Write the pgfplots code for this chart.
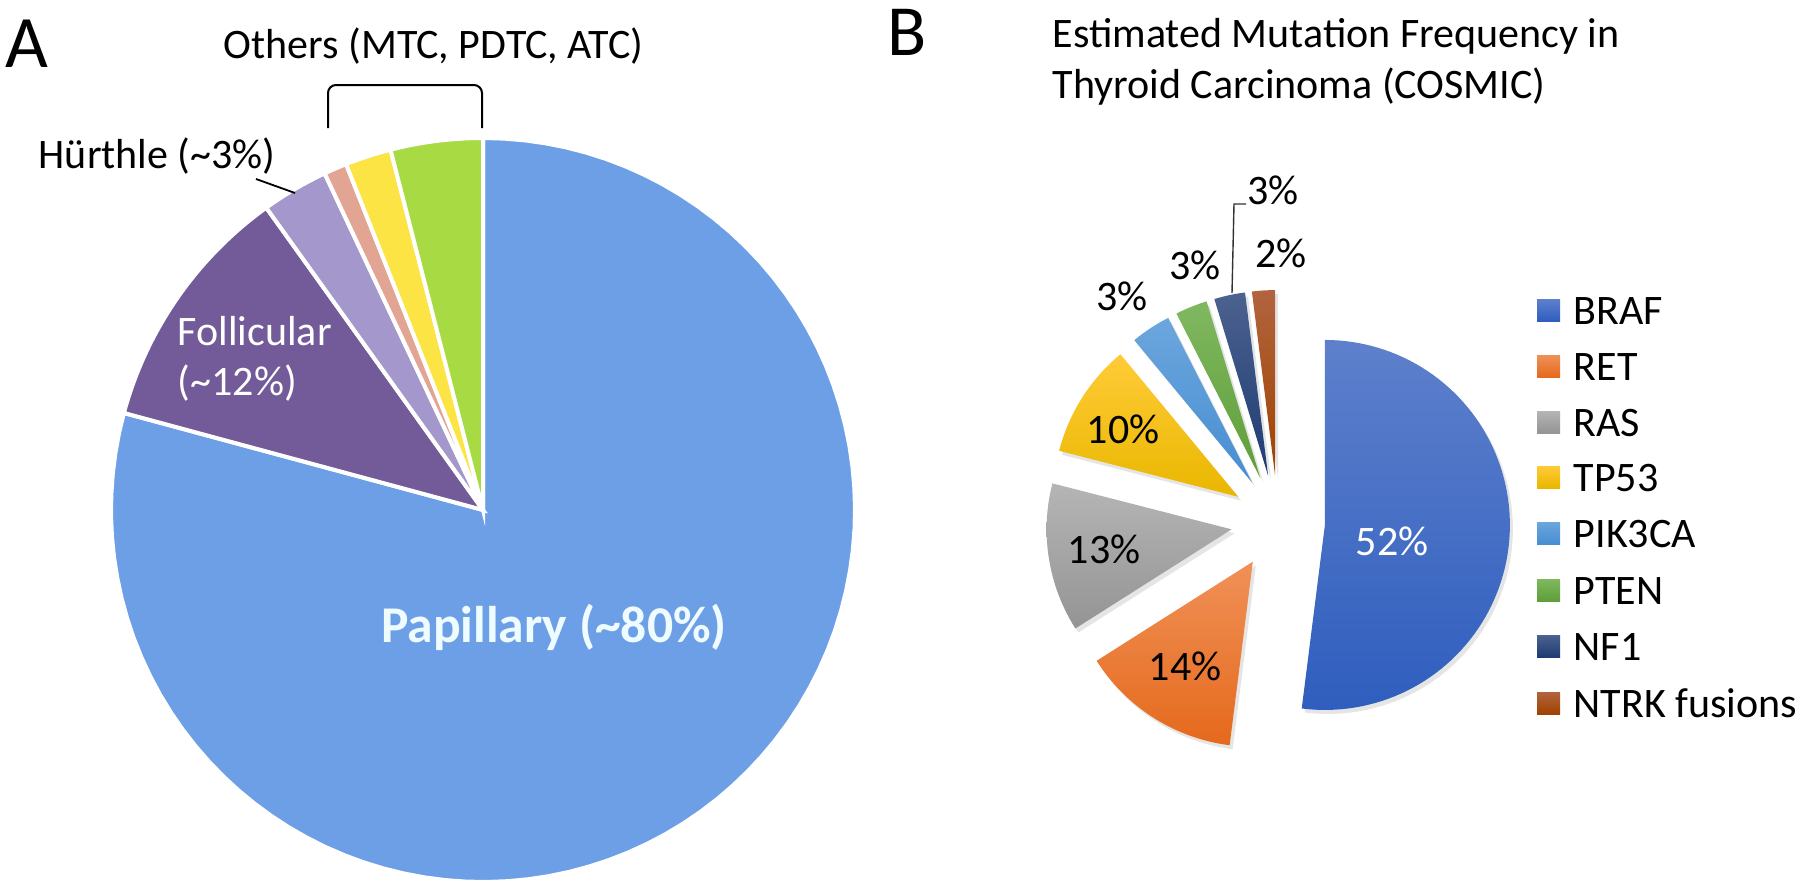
\documentclass[border=0pt]{standalone}
\usepackage{fontspec}
\setmainfont{Carlito}
\usepackage{pgfplots}
\pgfplotsset{compat=1.18}
% Panel A colours
\definecolor{papA}{HTML}{6D9FE7}
\definecolor{folA}{HTML}{725B98}
\definecolor{hurA}{HTML}{A497CB}
\definecolor{pinkA}{HTML}{E2A594}
\definecolor{yelA}{HTML}{FCE444}
\definecolor{grnA}{HTML}{A8DA44}
\definecolor{papText}{HTML}{EEFBFF}
% Panel B colours (top / bottom of gradient)
\definecolor{brafT}{HTML}{5E80CC}\definecolor{brafB}{HTML}{2F5EBE}
\definecolor{retT}{HTML}{F09158}\definecolor{retB}{HTML}{E5691C}
\definecolor{rasT}{HTML}{B5B5B5}\definecolor{rasB}{HTML}{949494}
\definecolor{tpT}{HTML}{FFCB38}\definecolor{tpB}{HTML}{E9B700}
\definecolor{pikT}{HTML}{6CA6DD}\definecolor{pikB}{HTML}{478ED2}
\definecolor{ptT}{HTML}{80B860}\definecolor{ptB}{HTML}{5E9E38}
\definecolor{nfT}{HTML}{4C6290}\definecolor{nfB}{HTML}{1E3B72}
\definecolor{ntT}{HTML}{B2643F}\definecolor{ntB}{HTML}{A04200}
\newcommand\fs[1]{\fontsize{#1}{1.2\dimexpr#1\relax}\selectfont}
\newcommand\tfs{\fs{10.5pt}}
\gdef\curang{90}
% #1 cx, #2 cy, #3 radius, #4 explosion, #5 value (percent), #6 style
\newcommand\pieslice[6]{%
  \pgfmathsetmacro\aEnd{\curang-(#5)*3.6}%
  \pgfmathsetmacro\aMid{(\curang+\aEnd)/2}%
  \pgfmathsetmacro\px{#1+(#4)*cos(\aMid)}%
  \pgfmathsetmacro\py{#2-(#4)*sin(\aMid)}%
  \edef\doslice{\noexpand\addplot[#6, domain=\aEnd:\curang, samples=90, variable=\noexpand\t, forget plot] ({\px+#3*cos(\noexpand\t)},{\py-#3*sin(\noexpand\t)}) -- (axis cs:\px,\py) -- cycle;}%
  \doslice
  \global\let\curang\aEnd
}
\newcommand\legitem[4]{% y, top colour, bottom colour, label
  \shade[top color=#2,bottom color=#3] (axis cs:1537,#1-11) rectangle (axis cs:1560,#1+11);
  \node[anchor=base west,inner sep=0,font=\tfs] at (axis cs:1573,#1+14) {#4};
}
\begin{document}
\begin{tikzpicture}
\begin{axis}[width=450pt,height=222.25pt,scale only axis,
  xmin=0,xmax=1800,ymin=0,ymax=889,y dir=reverse,hide axis,clip=false]
% ---------------- Panel A ----------------
\gdef\curang{90}
\pieslice{483}{510}{372}{0}{79.2}{fill=papA,draw=white,line width=1pt}
\pieslice{483}{510}{372}{0}{10.9}{fill=folA,draw=white,line width=1pt}
\pieslice{483}{510}{372}{0}{2.9}{fill=hurA,draw=white,line width=1pt}
\pieslice{483}{510}{372}{0}{1.0}{fill=pinkA,draw=white,line width=1pt}
\pieslice{483}{510}{372}{0}{2.0}{fill=yelA,draw=white,line width=1pt}
\pieslice{483}{510}{372}{0}{4.0}{fill=grnA,draw=white,line width=1pt}
\node[anchor=base west,inner sep=0,font=\fs{18.5pt}] at (axis cs:5,67) {A};
\node[anchor=base west,inner sep=0,font=\tfs] at (axis cs:223,58) {Others (MTC, PDTC, ATC)};
\draw[line width=0.5pt,rounded corners=2pt] (axis cs:328,128) -- (axis cs:328,85) -- (axis cs:482,85) -- (axis cs:482,128);
\node[anchor=base west,inner sep=0,font=\tfs] at (axis cs:38,168) {Hürthle (\textasciitilde 3\%)};
\draw[line width=0.45pt] (axis cs:256,179) -- (axis cs:295,193);
\node[anchor=base west,inner sep=0,font=\tfs,text=white] at (axis cs:177,345) {Follicular};
\node[anchor=base west,inner sep=0,font=\tfs,text=white] at (axis cs:177,395) {(\textasciitilde 12\%)};
\node[anchor=base,inner sep=0,font=\fs{12.9pt}\bfseries,text=papText] at (axis cs:554,642) {Papillary (\textasciitilde 80\%)};
% ---------------- Panel B ----------------
\gdef\curang{90}
\pieslice{1281}{526}{185}{47}{52}{fill=black,fill opacity=0.10,draw=none}
\pieslice{1281}{526}{185}{47}{14}{fill=black,fill opacity=0.10,draw=none}
\pieslice{1281}{526}{185}{47}{13}{fill=black,fill opacity=0.10,draw=none}
\pieslice{1281}{526}{185}{47}{10}{fill=black,fill opacity=0.10,draw=none}
\pieslice{1281}{526}{185}{47}{3.5}{fill=black,fill opacity=0.10,draw=none}
\pieslice{1281}{526}{185}{47}{2.8}{fill=black,fill opacity=0.10,draw=none}
\pieslice{1281}{526}{185}{47}{2.7}{fill=black,fill opacity=0.10,draw=none}
\pieslice{1281}{526}{185}{47}{2}{fill=black,fill opacity=0.10,draw=none}
\gdef\curang{90}
\pieslice{1278}{522}{185}{47}{52}{top color=brafT,bottom color=brafB,draw=none}
\pieslice{1278}{522}{185}{47}{14}{top color=retT,bottom color=retB,draw=none}
\pieslice{1278}{522}{185}{47}{13}{top color=rasT,bottom color=rasB,draw=none}
\pieslice{1278}{522}{185}{47}{10}{top color=tpT,bottom color=tpB,draw=none}
\pieslice{1278}{522}{185}{47}{3.5}{top color=pikT,bottom color=pikB,draw=none}
\pieslice{1278}{522}{185}{47}{2.8}{top color=ptT,bottom color=ptB,draw=none}
\pieslice{1278}{522}{185}{47}{2.7}{top color=nfT,bottom color=nfB,draw=none}
\pieslice{1278}{522}{185}{47}{2}{top color=ntT,bottom color=ntB,draw=none}
\node[anchor=base west,inner sep=0,font=\fs{18pt}] at (axis cs:887,55) {B};
\node[anchor=base west,inner sep=0,font=\tfs] at (axis cs:1052,48) {Estimated Mutation Frequency in};
\node[anchor=base west,inner sep=0,font=\tfs] at (axis cs:1052,98) {Thyroid Carcinoma (COSMIC)};
\node[font=\tfs,text=white] at (axis cs:1392,541) {52\%};
\node[font=\tfs] at (axis cs:1185,666) {14\%};
\node[font=\tfs] at (axis cs:1104,549) {13\%};
\node[font=\tfs] at (axis cs:1123,429) {10\%};
\node[font=\tfs] at (axis cs:1122,296) {3\%};
\node[font=\tfs] at (axis cs:1195,265) {3\%};
\node[font=\tfs] at (axis cs:1273,190) {3\%};
\node[font=\tfs] at (axis cs:1281,253) {2\%};
\draw[line width=0.35pt,color=black!80] (axis cs:1246,204) -- (axis cs:1234,204) -- (axis cs:1232,293);
% legend
\legitem{310}{brafT}{brafB}{BRAF}
\legitem{366}{retT}{retB}{RET}
\legitem{422}{rasT}{rasB}{RAS}
\legitem{477}{tpT}{tpB}{TP53}
\legitem{533}{pikT}{pikB}{PIK3CA}
\legitem{590}{ptT}{ptB}{PTEN}
\legitem{646}{nfT}{nfB}{NF1}
\legitem{703}{ntT}{ntB}{NTRK fusions}
\end{axis}
\pgfresetboundingbox
\useasboundingbox (current axis.south west) rectangle (current axis.north east);
\end{tikzpicture}
\end{document}
